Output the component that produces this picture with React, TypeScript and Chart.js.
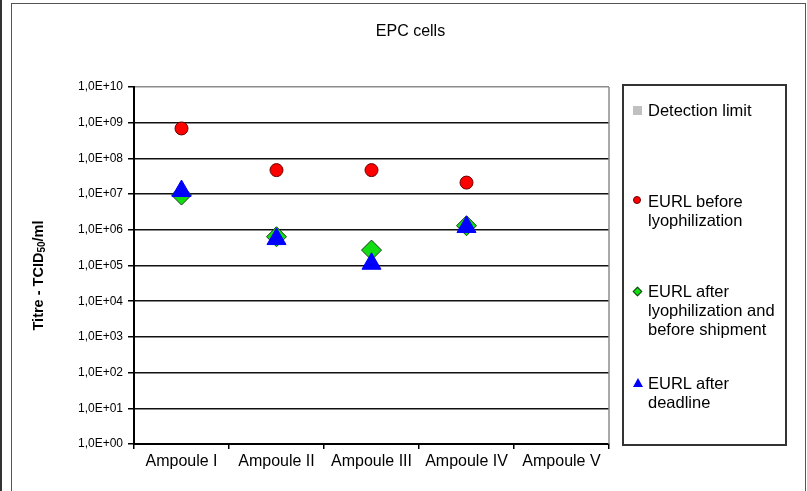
import React, { useEffect, useRef } from 'react';
import { Chart, registerables } from 'chart.js';

Chart.register(...registerables);

const categories = ['Ampoule I', 'Ampoule II', 'Ampoule III', 'Ampoule IV', 'Ampoule V'];
const detectionLimit: (number | null)[] = [null, null, null, null, null];
const eurlBeforeLyo: (number | null)[] = [6.9e8, 4.7e7, 4.7e7, 2.1e7, null];
const eurlAfterLyo: (number | null)[] = [9.4e6, 6.4e5, 2.7e5, 1.3e6, null];
const eurlAfterDeadline: (number | null)[] = [1.22e7, 5.5e5, 1.12e5, 1.2e6, null];
const yTickValues = [1, 1e1, 1e2, 1e3, 1e4, 1e5, 1e6, 1e7, 1e8, 1e9, 1e10];
const yTickLabels = ['1,0E+00', '1,0E+01', '1,0E+02', '1,0E+03', '1,0E+04', '1,0E+05', '1,0E+06', '1,0E+07', '1,0E+08', '1,0E+09', '1,0E+10'];
const chartTitle = 'EPC cells';
const yTitleParts = [
  { t: 'Titre - TCID', sub: false },
  { t: '50', sub: true },
  { t: '/ml', sub: false },
];
const legendItems = ['Detection limit', 'EURL before lyophilization', 'EURL after lyophilization and before shipment', 'EURL after deadline'];

const FONT = '"Liberation Sans", Arial, sans-serif';

const decorPlugin = {
  id: 'decor',
  afterDraw(chart: any) {
    const { ctx, chartArea } = chart;
    ctx.save();
    ctx.strokeStyle = '#8c8c8c';
    ctx.lineWidth = 1.5;
    ctx.beginPath();
    ctx.moveTo(chartArea.right, chartArea.top);
    ctx.lineTo(chartArea.right, chartArea.bottom);
    ctx.stroke();

    // y axis title with subscript
    const mainFont = `bold 14.5px ${FONT}`;
    const subFont = `bold 10px ${FONT}`;
    let total = 0;
    const widths = yTitleParts.map((p) => {
      ctx.font = p.sub ? subFont : mainFont;
      const w = ctx.measureText(p.t).width;
      total += w;
      return w;
    });
    ctx.translate(39, (chartArea.top + chartArea.bottom) / 2 + 10);
    ctx.rotate(-Math.PI / 2);
    ctx.fillStyle = '#000';
    ctx.textBaseline = 'middle';
    ctx.textAlign = 'left';
    let x = -total / 2;
    yTitleParts.forEach((p, i) => {
      ctx.font = p.sub ? subFont : mainFont;
      ctx.fillText(p.t, x, p.sub ? 3 : 0);
      x += widths[i];
    });
    ctx.restore();
  },
};

export default function App() {
  const ref = useRef<HTMLCanvasElement | null>(null);

  useEffect(() => {
    if (!ref.current) return;
    const chart = new Chart(ref.current, {
      type: 'line',
      data: {
        labels: categories,
        datasets: [
          {
            label: legendItems[0],
            data: detectionLimit,
            showLine: false,
            pointStyle: 'rect',
            pointRadius: 5,
            backgroundColor: '#c0c0c0',
            borderColor: '#c0c0c0',
            order: 3,
          },
          {
            label: legendItems[1],
            data: eurlBeforeLyo,
            showLine: false,
            pointStyle: 'circle',
            pointRadius: 6.5,
            pointBorderWidth: 1,
            backgroundColor: '#ff0000',
            borderColor: '#6b0000',
            pointBackgroundColor: '#ff0000',
            pointBorderColor: '#6b0000',
            order: 2,
          },
          {
            label: legendItems[2],
            data: eurlAfterLyo,
            showLine: false,
            pointStyle: 'rectRot',
            pointRadius: 10,
            pointBorderWidth: 1,
            backgroundColor: '#11dd11',
            borderColor: '#1a3a1a',
            pointBackgroundColor: '#11dd11',
            pointBorderColor: '#1a3a1a',
            order: 1,
          },
          {
            label: legendItems[3],
            data: eurlAfterDeadline,
            showLine: false,
            pointStyle: 'triangle',
            pointRadius: 11,
            pointBorderWidth: 1,
            backgroundColor: '#0000ff',
            borderColor: '#0000ff',
            pointBackgroundColor: '#0000ff',
            pointBorderColor: '#0000ff',
            order: 0,
          },
        ],
      },
      options: {
        animation: false,
        responsive: false,
        maintainAspectRatio: false,
        events: [],
        layout: { padding: { left: 0, top: 87, right: 198, bottom: 0 } },
        plugins: {
          legend: { display: false },
          tooltip: { enabled: false },
          title: { display: false },
        },
        scales: {
          x: {
            type: 'category',
            offset: true,
            grid: {
              offset: true,
              drawOnChartArea: false,
              drawTicks: true,
              tickLength: 5,
              color: '#000',
              lineWidth: 1.5,
            },
            border: { color: '#000', width: 2 },
            ticks: {
              color: '#000',
              font: { family: FONT, size: 16 },
              padding: 3,
              maxRotation: 0,
              autoSkip: false,
            },
            afterFit: (s: any) => {
              s.height = 47;
            },
          },
          y: {
            type: 'logarithmic',
            min: 1,
            max: 1e10,
            afterBuildTicks: (s: any) => {
              s.ticks = yTickValues.map((v) => ({ value: v }));
            },
            ticks: {
              callback: (_v: any, i: number) => yTickLabels[i],
              font: { family: FONT, size: 12 },
              color: '#000',
              padding: 5,
              autoSkip: false,
            },
            grid: {
              color: (c: any) => (c.tick && c.tick.value === 1e10 ? '#8c8c8c' : '#111'),
              lineWidth: 1.5,
              tickLength: 6,
              tickColor: '#000',
            },
            border: { color: '#000', width: 2 },
            afterFit: (s: any) => {
              s.width = 134;
            },
          },
        },
      },
      plugins: [decorPlugin],
    } as any);
    return () => chart.destroy();
  }, []);

  const text: React.CSSProperties = {
    position: 'absolute',
    left: 648,
    fontFamily: FONT,
    fontSize: 16.5,
    lineHeight: '19px',
    color: '#000',
    width: 136,
    whiteSpace: 'normal',
  };

  return (
    <div style={{ position: 'fixed', left: 0, top: 0, width: 807, height: 491, background: '#fff', overflow: 'hidden' }}>
      <div style={{ position: 'absolute', left: 0, top: 0, width: 2, height: 491, background: '#333' }} />
      <div
        style={{
          position: 'absolute',
          left: 11,
          top: 3,
          width: 795,
          height: 500,
          border: '1.5px solid #555',
          boxSizing: 'border-box',
        }}
      />
      <canvas ref={ref} width={807} height={491} style={{ position: 'absolute', left: 0, top: 0, width: 807, height: 491 }} />
      <div
        style={{
          position: 'absolute',
          left: 0,
          width: 821,
          top: 21,
          textAlign: 'center',
          fontFamily: FONT,
          fontSize: 16,
          lineHeight: '19px',
          color: '#000',
        }}
      >
        {chartTitle}
      </div>
      <div
        style={{
          position: 'absolute',
          left: 622,
          top: 84,
          width: 165,
          height: 362,
          border: '2px solid #333',
          boxSizing: 'border-box',
        }}
      />
      {/* legend markers */}
      <div style={{ position: 'absolute', left: 633, top: 106, width: 9, height: 9, background: '#c0c0c0' }} />
      <div
        style={{
          position: 'absolute',
          left: 633,
          top: 196,
          width: 8,
          height: 8,
          borderRadius: '50%',
          background: '#ff0000',
          border: '1px solid #6b0000',
          boxSizing: 'border-box',
        }}
      />
      <div
        style={{
          position: 'absolute',
          left: 634,
          top: 288,
          width: 7,
          height: 7,
          transform: 'rotate(45deg)',
          background: '#11dd11',
          border: '1px solid #1a3a1a',
          boxSizing: 'border-box',
        }}
      />
      <div
        style={{
          position: 'absolute',
          left: 633,
          top: 378,
          width: 0,
          height: 0,
          borderLeft: '5px solid transparent',
          borderRight: '5px solid transparent',
          borderBottom: '9px solid #0000ff',
        }}
      />
      <div style={{ ...text, top: 100.5 }}>{legendItems[0]}</div>
      <div style={{ ...text, top: 192 }}>{legendItems[1]}</div>
      <div style={{ ...text, top: 282 }}>{legendItems[2]}</div>
      <div style={{ ...text, top: 374 }}>{legendItems[3]}</div>
    </div>
  );
}
